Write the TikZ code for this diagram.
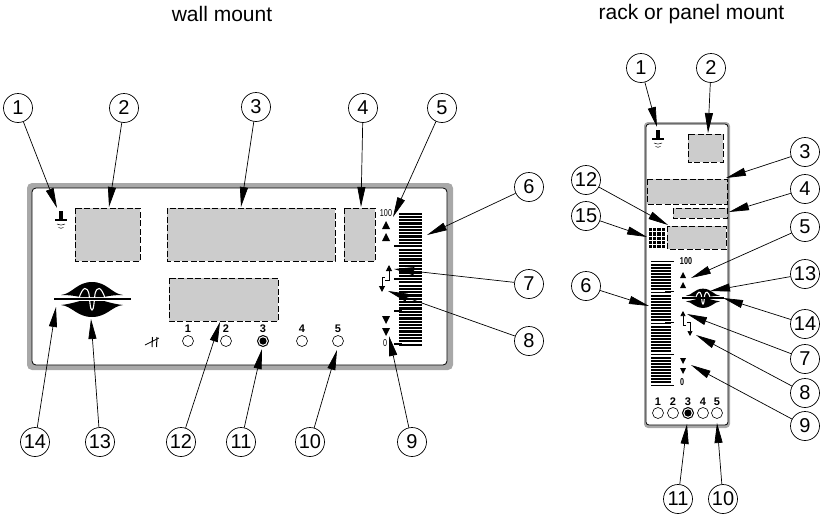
\documentclass[tikz,border=0pt]{standalone}
\usepackage{fontspec}
\setmainfont{Liberation Sans}
\usetikzlibrary{arrows.meta}
\definecolor{lcdgray}{gray}{0.8}
\definecolor{framegray}{gray}{0.66}
\newcommand{\squeezed}[1]{\scalebox{0.72}[1]{#1}}
\tikzset{
	callnum/.style={draw,circle,line width=0.7pt,minimum size=29pt,inner sep=0pt,font=\fontsize{20}{22}\selectfont},
	callout/.style={line width=0.7pt,-{Triangle[length=20pt,width=8pt]}},
	lcdbox/.style={draw,fill=lcdgray,line width=1pt,dash pattern=on 6pt off 2.5pt},
	title/.style={font=\fontsize{21}{24}\selectfont},
	ledlabel/.style={inner sep=0pt,font=\bfseries\fontsize{11}{12}\selectfont},
	ledoff/.style={draw,circle,fill=white,line width=0.6pt,minimum size=11pt,inner sep=0pt},
	ledon/.style={ledoff,line width=1pt,path picture={\fill[black] (path picture bounding box.center) circle (3.6pt);}},
	barlabel/.style={inner sep=0pt,font=\fontsize{10}{11}\selectfont},
	rackbarlabel/.style={inner sep=0pt,font=\bfseries\fontsize{10}{11}\selectfont},
	wavelogo/.pic={
		\fill (-31,-4) .. controls (-20,-5) and (-15,-17) .. (0,-17) .. controls (15,-17) and (20,-5) .. (31,-4)
			.. controls (22,-4) and (16,-3) .. (12,-2) -- (-12,-2) .. controls (-16,-3) and (-22,-4) .. cycle;
		\fill (-31,6) .. controls (-22,5) and (-16,3) .. (-12,2) -- (12,2) .. controls (16,3) and (22,5) .. (31,6)
			.. controls (20,7) and (15,18) .. (0,18) .. controls (-15,18) and (-20,7) .. cycle;
		\draw[white,line width=1.1pt] (-13,-1) .. controls (-9,-13) and (-5,-13) .. (-3,-5) .. controls (-2,2) and (-2,11) .. (0,11)
			.. controls (2,11) and (2,2) .. (3,-5) .. controls (5,-13) and (9,-13) .. (13,-1);
		\draw[line width=1.6pt] (-38,0) -- (39,0);
	},
	bulbicon/.pic={
		\draw[line width=4.5pt] (0,0) -- (0,8);
		\draw[line width=2.5pt] (-6,9) -- (6,9);
		\draw[line width=0.5pt] (-4,13) .. controls (-1.5,14.5) and (1.5,14.5) .. (4,13);
		\draw[line width=0.5pt] (-2.5,16.5) .. controls (-1,17.5) and (1,17.5) .. (2.5,16.5);
	}
}
\begin{document}
\begin{tikzpicture}[x=1pt,y=-1pt,>=Stealth]
	\useasboundingbox (0,0) rectangle (823,517);
	
	\node[title] (walltitle) at (222,14) {wall mount};
	\node[title] (racktitle) at (691.5,14) {rack or panel mount};
	
	% Wall panel
	\fill[framegray,rounded corners=5pt] (27,183) rectangle (453,370);
	\draw[fill=white,line width=0.8pt,rounded corners=4pt] (32,188) rectangle (447,365);
	\draw[lcdbox] (75,208) rectangle (140,261);
	\draw[lcdbox] (167,208) rectangle (335,261);
	\draw[lcdbox] (344,208) rectangle (375,261);
	\draw[lcdbox] (169,278) rectangle (278,321);
	\pic at (61,211) {bulbicon};
	\pic at (92,299) {wavelogo};
	
	% Wall bargraph
	\foreach \k in {0,...,40}
	\fill (399,212.5+3.275*\k) rectangle (422,214.7+3.275*\k);
	\foreach \y in {246,279,311,344}
	\draw[line width=1.2pt] (394,\y) -- (402,\y);
	\node[barlabel] (wall100) at (386,213) {\squeezed{100}};
	\node[barlabel] (wall0) at (385,343) {\squeezed{0}};
	\foreach \y in {221,233}
	\fill (382,\y+8) -- (390,\y+8) -- (386,\y) -- cycle;
	\foreach \y in {316,328}
	\fill (382,\y) -- (390,\y) -- (386,\y+8) -- cycle;
	\draw[line width=1pt,-{Triangle[length=6pt,width=6pt]}] (385,280) -- (389,280) -- (389,265);
	\draw[line width=1pt,-{Triangle[length=6pt,width=6pt]}] (385,277) -- (382,277) -- (382,292);
	
	% Wall leds
	\foreach \n/\x in {1/188,2/226,4/302,5/338}{
		\node[ledoff] (wled\n) at (\x,341) {};
		\node[ledlabel] (wlab\n) at (\x,329) {\n};
	}
	\node[ledon] (wled3) at (263,341) {};
	\node[ledlabel] (wlab3) at (263,329) {3};
	\draw[line width=1pt] (152.5,337) -- (152,347) (157,337) -- (156.5,347);
	\draw[line width=0.8pt] (145,345) -- (159,338);
	
	% Rack panel
	\fill[framegray,rounded corners=4pt] (644,122) rectangle (730,428);
	\draw[fill=white,line width=0.8pt,rounded corners=3pt] (646,124) rectangle (728,425);
	\draw[lcdbox] (688,134) rectangle (723,162);
	\draw[lcdbox] (647,179) rectangle (727,204);
	\draw[lcdbox] (673,208) rectangle (727,218);
	\draw[lcdbox] (667,226) rectangle (726,249);
	\pic at (658,130) {bulbicon};
	\pic[scale=0.55] at (703,298) {wavelogo};
	\foreach \i in {0,...,3}
	\foreach \j in {0,...,4}
	\fill (649+4.2*\i,228+4.3*\j) rectangle +(3.2,3.2);
	
	% Rack bargraph
	\foreach \k in {0,...,40}
	\fill (651,260.5+3.1*\k) rectangle (671,262.4+3.1*\k);
	\foreach \y in {261,291,322,354,385}
	\draw[line width=1pt] (665,\y) -- (674,\y);
	\node[rackbarlabel] (rack100) at (686,261) {\squeezed{100}};
	\node[rackbarlabel] (rack0) at (682,382) {\squeezed{0}};
	\foreach \y in {272,282}
	\fill (680,\y+6) -- (686,\y+6) -- (683,\y) -- cycle;
	\foreach \y in {358,368}
	\fill (680,\y) -- (686,\y) -- (683,\y+6) -- cycle;
	\draw[line width=0.7pt,-{Triangle[length=5pt,width=5pt]}] (686,325) -- (683,325) -- (683,311);
	\draw[line width=0.7pt,-{Triangle[length=5pt,width=5pt]}] (687,322) -- (690,322) -- (690,336);
	
	% Rack leds
	\foreach \n/\x in {1/658,2/673,4/703,5/717}{
		\node[ledoff] (rled\n) at (\x,413) {};
		\node[ledlabel] (rlab\n) at (\x,402) {\n};
	}
	\node[ledon] (rled3) at (688,413) {};
	\node[ledlabel] (rlab3) at (688,402) {3};
	
	% Wall callouts
	\foreach \n/\cx/\cy/\ex/\ey in {1/18/108/57/208,2/124/108/109/207,3/256/107/241/207,4/363/108/361/207,5/442/108/393/217,
		6/529/187/427/235,7/529/284/394/269,8/529/341/388/291,9/412/442/389/336,10/310/442/337/350,
		11/241/442/262/349,12/181/442/220/322,13/100/442/91/319,14/35/442/56/307}{
		\node[callnum] (w\n) at (\cx,\cy) {\n};
		\coordinate (wtip\n) at (\ex,\ey);
		\draw[callout] (w\n) -- (wtip\n);
	}
	
	% Rack callouts
	\foreach \n/\cx/\cy/\ex/\ey in {1/641/68/657/127,2/711/68/708/133,3/805/152/726/178,4/805/189/729/212,5/805/227/691/278,
		6/586/286/649/306,7/805/359/687/314,8/805/393/696/335,9/805/426/691/365,10/723/499/717/423,
		11/678/499/687/424,12/586/180/668/225,13/805/274/710/291,14/805/324/723/298,15/586/216/647/237}{
		\node[callnum] (r\n) at (\cx,\cy) {\n};
		\coordinate (rtip\n) at (\ex,\ey);
		\draw[callout] (r\n) -- (rtip\n);
	}
	
\end{tikzpicture}
\end{document}
